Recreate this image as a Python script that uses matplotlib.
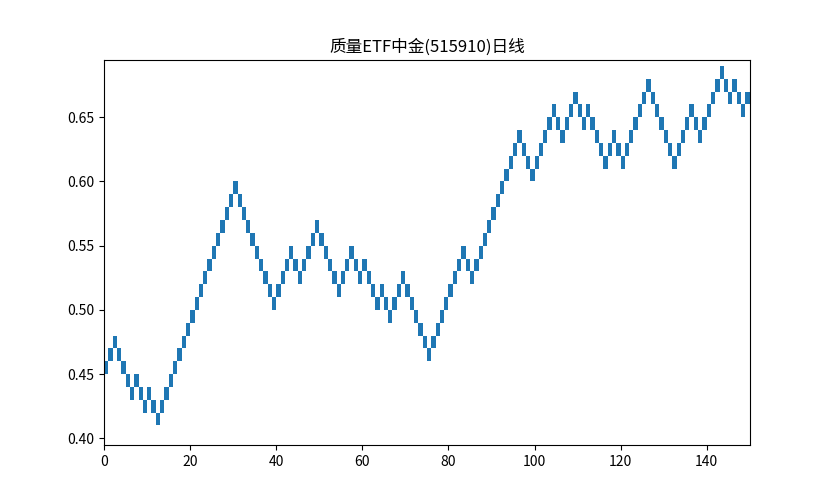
import numpy as np
import matplotlib
matplotlib.use("Agg")
from matplotlib import pyplot as plt

plt.rcParams['font.family'] = ['Noto Sans CJK SC', 'DejaVu Sans']
plt.rcParams['axes.unicode_minus'] = False

title = "质量ETF中金(515910)日线"
brick_size = 0.01

# bottom of each renko brick, in order
brick_bottoms = [
    0.45, 0.46, 0.47, 0.46, 0.45, 0.44, 0.43, 0.44, 0.43, 0.42,
    0.43, 0.42, 0.41, 0.42, 0.43, 0.44, 0.45, 0.46, 0.47, 0.48,
    0.49, 0.50, 0.51, 0.52, 0.53, 0.54, 0.55, 0.56, 0.57, 0.58,
    0.59, 0.58, 0.57, 0.56, 0.55, 0.54, 0.53, 0.52, 0.51, 0.50,
    0.51, 0.52, 0.53, 0.54, 0.53, 0.52, 0.53, 0.54, 0.55, 0.56,
    0.55, 0.54, 0.53, 0.52, 0.51, 0.52, 0.53, 0.54, 0.53, 0.52,
    0.53, 0.52, 0.51, 0.50, 0.51, 0.50, 0.49, 0.50, 0.51, 0.52,
    0.51, 0.50, 0.49, 0.48, 0.47, 0.46, 0.47, 0.48, 0.49, 0.50,
    0.51, 0.52, 0.53, 0.54, 0.53, 0.52, 0.53, 0.54, 0.55, 0.56,
    0.57, 0.58, 0.59, 0.60, 0.61, 0.62, 0.63, 0.62, 0.61, 0.60,
    0.61, 0.62, 0.63, 0.64, 0.65, 0.64, 0.63, 0.64, 0.65, 0.66,
    0.65, 0.64, 0.65, 0.64, 0.63, 0.62, 0.61, 0.62, 0.63, 0.62,
    0.61, 0.62, 0.63, 0.64, 0.65, 0.66, 0.67, 0.66, 0.65, 0.64,
    0.63, 0.62, 0.61, 0.62, 0.63, 0.64, 0.65, 0.64, 0.63, 0.64,
    0.65, 0.66, 0.67, 0.68, 0.67, 0.66, 0.67, 0.66, 0.65, 0.66,
]

x = np.arange(len(brick_bottoms))

fig, ax = plt.subplots(figsize=(8.33, 5), dpi=100)
ax.bar(x, brick_size, width=1, bottom=brick_bottoms, align='edge', color='#1f77b4')
ax.set_xlim(0, len(brick_bottoms))
ax.set_ylim(0.3948, 0.6946)
ax.set_title(title)
plt.savefig("out.png")
plt.close()
